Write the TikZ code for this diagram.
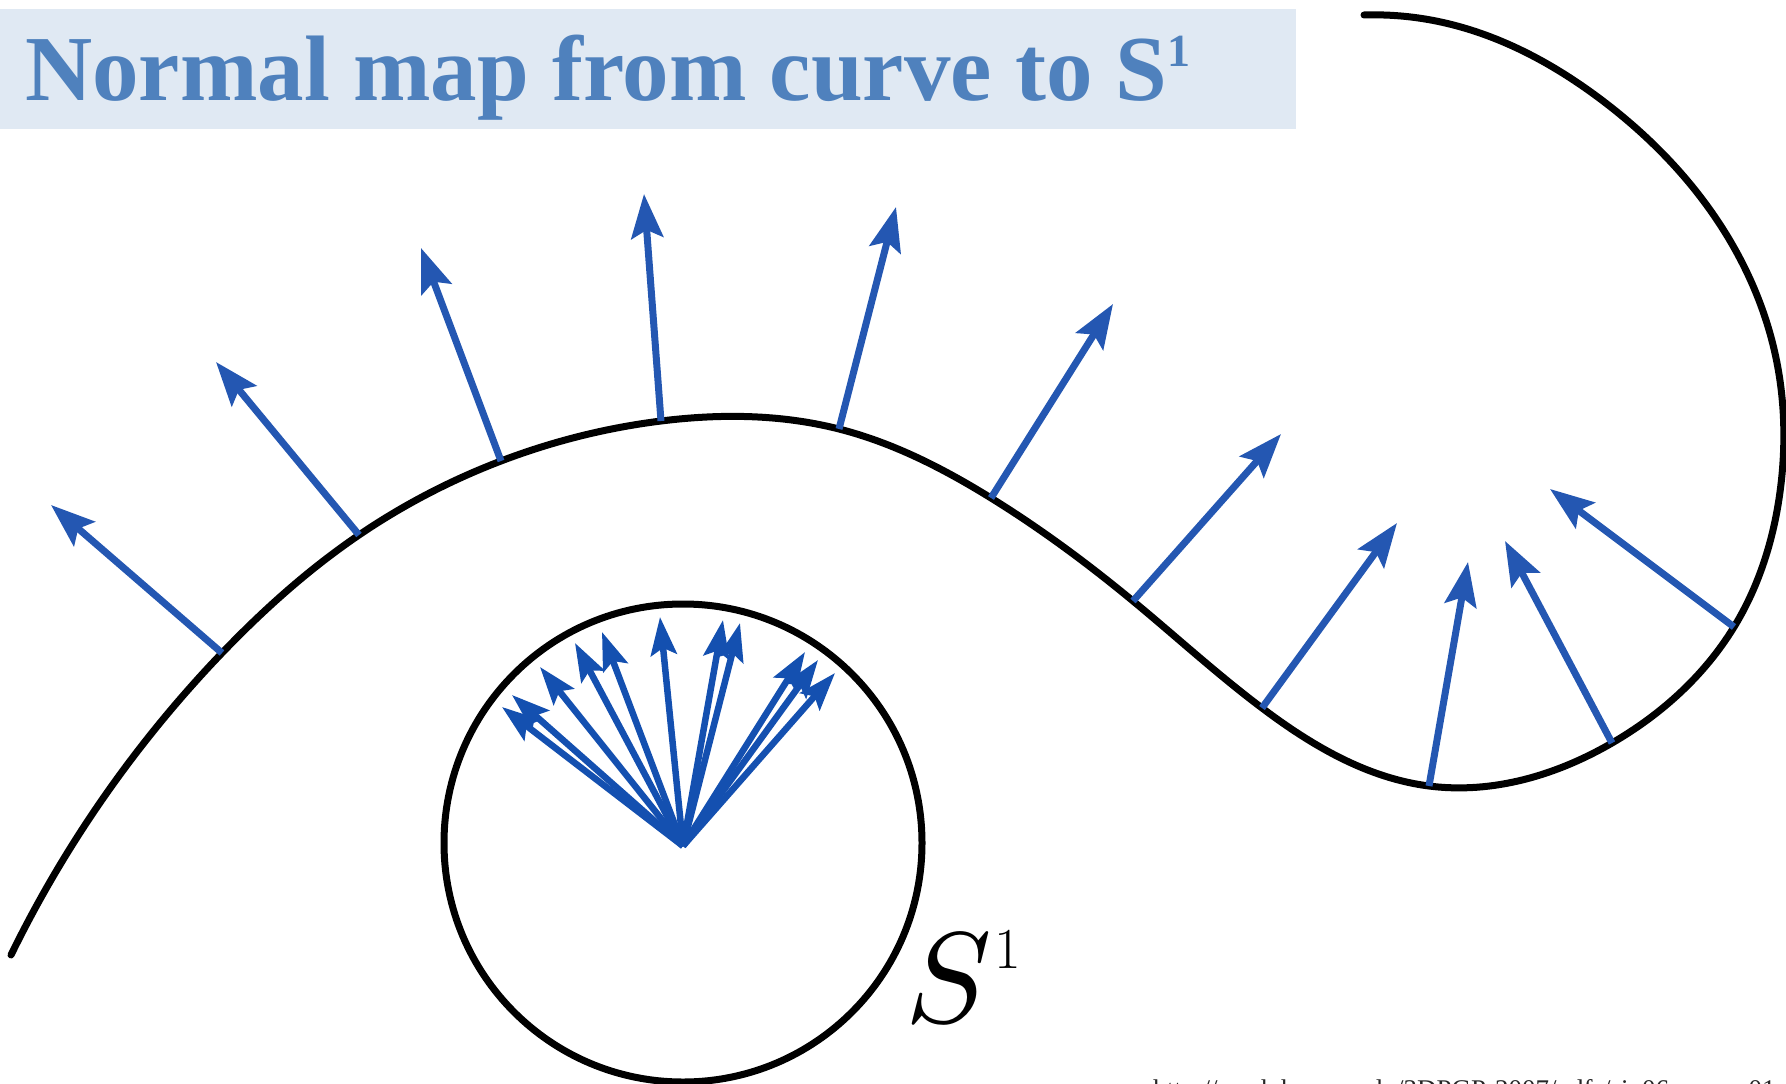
\documentclass[tikz,border=0pt]{standalone}
\usepackage{fontspec}
\newfontfamily\titlefont{Liberation Serif}
\usetikzlibrary{arrows.meta,hobby}
\definecolor{band}{RGB}{224,233,243}
\definecolor{titleblue}{RGB}{79,129,189}
\definecolor{arrowblue}{RGB}{36,87,178}
\definecolor{fanblue}{RGB}{20,80,176}
\begin{document}
\begin{tikzpicture}[x=1pt,y=1pt,
  curve/.style={line width=7pt, black, line cap=round},
  normal/.style={line width=7pt, arrowblue, -{Stealth[length=44pt,width=32pt,inset=8pt]}},
  fan/.style={line width=6.5pt, fanblue, -{Stealth[length=38pt,width=26pt,inset=7pt]}}]
\useasboundingbox (0,0) rectangle (1786,-1084);
% title band
\fill[band] (0,-9) rectangle (1296,-129);
\node[anchor=base west, inner sep=0, text=titleblue, font=\titlefont\bfseries\fontsize{93}{93}\selectfont] (title) at (25,-100) {Normal map from curve to S\raisebox{34pt}{\fontsize{46}{46}\selectfont 1}};
% curve points
\coordinate (st) at (11,-955);
\coordinate (b1) at (222,-653);
\coordinate (b2) at (359,-535);
\coordinate (b3) at (501,-461);
\coordinate (b4) at (661,-421);
\coordinate (b5) at (839,-429);
\coordinate (b6) at (991,-498);
\coordinate (b7) at (1133,-601);
\coordinate (b8) at (1262,-708);
\coordinate (b9) at (1429,-786);
\coordinate (b10) at (1612,-743);
\coordinate (b11) at (1734,-627);
\coordinate (l1) at (1781,-484);
\coordinate (l2) at (1776,-358);
\coordinate (l3) at (1719,-223);
\coordinate (l4) at (1603,-101);
\coordinate (l5) at (1436,-21);
\coordinate (en) at (1364,-15);
% tips
\coordinate (t1) at (51,-505);
\coordinate (t2) at (216,-362);
\coordinate (t3) at (421,-248);
\coordinate (t4) at (644,-194);
\coordinate (t5) at (896,-207);
\coordinate (t6) at (1113,-304);
\coordinate (t7) at (1281,-434);
\coordinate (t8) at (1397,-523);
\coordinate (t9) at (1468,-562);
\coordinate (t10) at (1505,-541);
\coordinate (t11) at (1550,-489);
% the curve
\draw[curve, use Hobby shortcut] (st) .. (b1) .. (b2) .. (b3) .. (b4) .. (b5) .. (b6) .. (b7) .. (b8) .. (b9) .. (b10) .. (b11) .. (l1) .. (l2) .. (l3) .. (l4) .. (l5) .. (en);
% normals
\foreach \i in {1,...,11} \draw[normal] (b\i) -- (t\i);
% circle
\node[circle, draw, line width=7pt, minimum size=478pt, inner sep=0] (s1) at (683,-843) {};
\coordinate (c) at (683,-846);
\coordinate (f1) at (502,-707);
\coordinate (f2) at (512,-695);
\coordinate (f3) at (540,-667);
\coordinate (f4) at (575,-643);
\coordinate (f5) at (602,-632);
\coordinate (f6) at (660,-617);
\coordinate (f7) at (723,-620);
\coordinate (f8) at (740,-623);
\coordinate (f9) at (805,-652);
\coordinate (f10) at (818,-660);
\coordinate (f11) at (835,-673);
\foreach \i in {1,...,11} \draw[fan] (c) -- (f\i);
% label
\node[anchor=base west, inner sep=0, scale=12.9] (slabel) at (903,-1022) {$S$};
\node[anchor=base west, inner sep=0] (sup) at (994,-968) {\fontsize{58}{58}\selectfont 1};
% source url (cut off at bottom)
\node[anchor=base west, inner sep=0, text=black!85, font=\titlefont\fontsize{27}{27}\selectfont] (url) at (1153,-1098) {http://mesh.brown.edu/3DPGP-2007/pdfs/sig06-course01.pdf};
\end{tikzpicture}
\end{document}
